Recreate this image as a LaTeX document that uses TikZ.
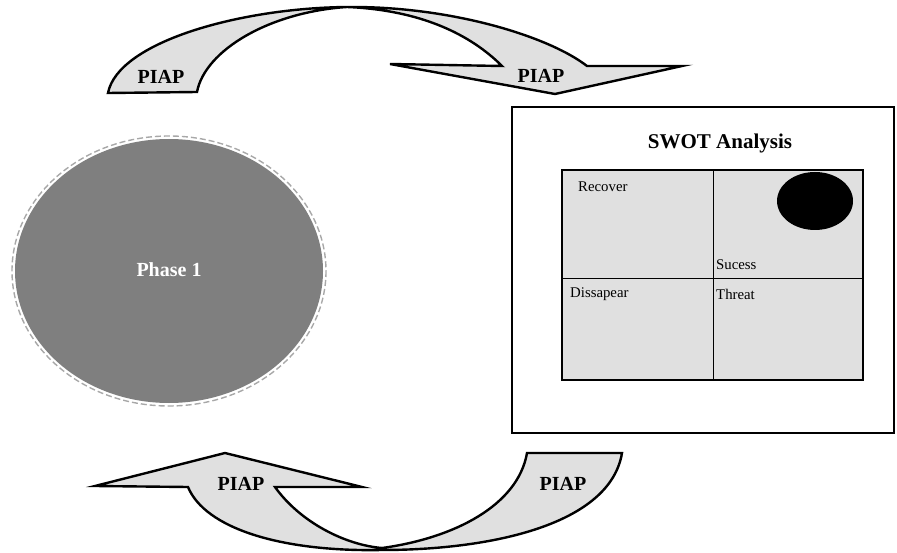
\documentclass[tikz,border=0pt]{standalone}
\usepackage{fontspec}
\setmainfont{Liberation Serif}
\definecolor{arrowfill}{HTML}{E0E0E0}
\definecolor{phasefill}{HTML}{7F7F7F}
\definecolor{dashgray}{HTML}{A8A8A8}
\definecolor{gridfill}{HTML}{E0E0E0}
\tikzset{
  ribbon/.style={draw=black, fill=arrowfill, line width=2.4pt, line join=miter},
  piap/.style={font=\fontsize{20}{24}\selectfont\bfseries, text=black, inner sep=0pt},
  cell/.style={font=\fontsize{14.8}{17}\selectfont, anchor=west, inner sep=0pt},
}
\begin{document}
\begin{tikzpicture}[x=1pt,y=-1pt]
\useasboundingbox (0,0) rectangle (897,553);
% top arrow
\draw[ribbon] (108,93) .. controls (118,42) and (240,8) .. (347,7)
  .. controls (450,6) and (548,36) .. (587,66)
  -- (682,66) -- (555,94) -- (390,64) -- (502,66)
  .. controls (470,34) and (420,10) .. (347,7)
  .. controls (270,12) and (205,50) .. (197,92) -- cycle;
\node[piap] (t1) at (161,77) {PIAP};
\node[piap] (t2) at (541,76) {PIAP};
% bottom arrow
\draw[ribbon] (95,486) -- (225,453) -- (362,487) -- (275,487)
  .. controls (300,522) and (345,545) .. (382,548)
  .. controls (455,538) and (518,505) .. (527,453)
  -- (622,453)
  .. controls (610,525) and (490,550) .. (382,550)
  .. controls (280,552) and (205,528) .. (188,487) -- cycle;
\node[piap] (b1) at (241,484) {PIAP};
\node[piap] (b2) at (563,484) {PIAP};
% phase 1
\fill[phasefill] (169,271) ellipse [x radius=154, y radius=132];
\draw[dashgray, line width=1.4pt, dash pattern=on 6pt off 3pt] (169,271) ellipse [x radius=157, y radius=135];
\node[text=white, font=\fontsize{20}{24}\selectfont\bfseries] (phase) at (169,270) {Phase 1};
% SWOT
\draw[line width=2.4pt] (512,107) rectangle (894,433);
\node[font=\fontsize{21}{25}\selectfont\bfseries] (title) at (720,143) {SWOT Analysis};
\fill[gridfill] (562,170) rectangle (863,380);
\fill[black] (815,201) ellipse [x radius=38, y radius=29];
\draw[line width=0.8pt] (713,170) -- (713,380);
\draw[line width=0.8pt] (562,278) -- (863,278);
\draw[line width=2.8pt] (562,170) rectangle (863,380);
\node[cell] (rec) at (578,187) {Recover};
\node[cell] (suc) at (716,265) {Sucess};
\node[cell] (dis) at (570,294) {Dissapear};
\node[cell] (thr) at (716,294) {Threat};
\end{tikzpicture}
\end{document}
